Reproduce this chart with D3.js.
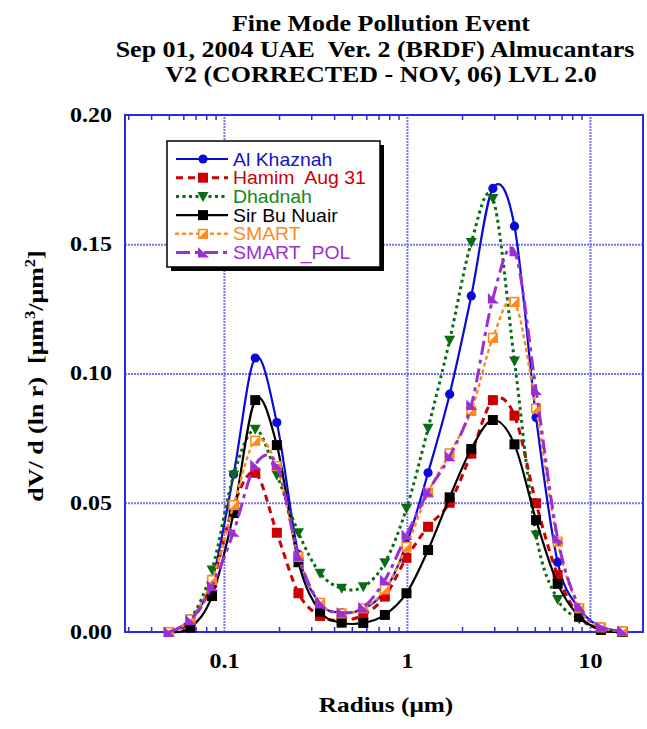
<!DOCTYPE html>
<html lang="en">
<head>
<meta charset="UTF-8">
<title>Fine Mode Pollution Event</title>
<script src="https://d3js.org/d3.v7.min.js"></script>
<style>
    body { margin: 0; background: #fff; }
    svg { display: block; }
    text { white-space: pre; }
</style>
</head>
<body>
<div id="chart"></div>
<script>
    // radius bins (um) of the inversion
    const radius = [0.05, 0.0656, 0.0861, 0.113, 0.1483, 0.1946, 0.2554, 0.3352, 0.4399, 0.5773, 0.7576,
                    0.9943, 1.3048, 1.7123, 2.2471, 2.949, 3.87, 5.0786, 6.6647, 8.7462, 11.4778, 15.0624];

    // dV/dlnr per site
    const alKhaznah  = [0.000, 0.005, 0.020, 0.061, 0.106, 0.081, 0.030, 0.011, 0.0075, 0.009, 0.016,
                        0.034, 0.0616, 0.092, 0.130, 0.1716, 0.157, 0.083, 0.027, 0.009, 0.002, 0.0005];
    const hamim      = [0.000, 0.004, 0.019, 0.049, 0.0616, 0.0384, 0.015, 0.0062, 0.0045, 0.0066, 0.0137,
                        0.0287, 0.0407, 0.050, 0.069, 0.0897, 0.0837, 0.0498, 0.022, 0.006, 0.001, 0.000];
    const dhadnah    = [0.000, 0.005, 0.024, 0.0607, 0.0784, 0.0607, 0.0384, 0.0227, 0.0169, 0.0175, 0.0268,
                        0.0478, 0.0788, 0.1129, 0.1507, 0.1677, 0.1048, 0.0375, 0.0126, 0.005, 0.001, 0.000];
    const sirBuNuair = [0.000, 0.0017, 0.0139, 0.046, 0.0897, 0.0723, 0.027, 0.0079, 0.0036, 0.0035, 0.0066,
                        0.015, 0.0317, 0.0521, 0.0708, 0.082, 0.0726, 0.0433, 0.0186, 0.0059, 0.0008, 0.000];
    const smart      = [0.000, 0.0049, 0.0201, 0.0491, 0.074, 0.0642, 0.0291, 0.0113, 0.0072, 0.0092, 0.0165,
                        0.033, 0.0539, 0.0691, 0.0855, 0.1138, 0.1277, 0.0865, 0.0349, 0.0092, 0.0018, 0.0003];
    const smartPol   = [0.000, 0.0045, 0.0178, 0.0388, 0.0646, 0.0646, 0.0294, 0.011, 0.0075, 0.0095, 0.0201,
                        0.0375, 0.0543, 0.068, 0.0878, 0.129, 0.1473, 0.0936, 0.0362, 0.0098, 0.002, 0.0005];

    const seriesNames = ["Al Khaznah", "Hamim  Aug 31", "Dhadnah", "Sir Bu Nuair", "SMART", "SMART_POL"];
    const xMajor = [0.1, 1, 10];
    const yTicks = [0, 0.05, 0.10, 0.15, 0.20];
    const titleLines = ["Fine Mode Pollution Event",
                        "Sep 01, 2004 UAE  Ver. 2 (BRDF) Almucantars",
                        "V2 (CORRECTED - NOV, 06) LVL 2.0"];

    // styles, same order as the names
    const styles = [
        { color: "#0a0ad8", text: "#1010d0", width: 2.2, dash: null,        marker: "circle" },
        { color: "#cc0000", text: "#cc0000", width: 3,   dash: "7,5",       marker: "square" },
        { color: "#0b6b12", text: "#118a11", width: 3,   dash: "3,3.5",     marker: "triDown" },
        { color: "#000000", text: "#000000", width: 2.2, dash: null,        marker: "square" },
        { color: "#ff8a1c", text: "#ff8a1c", width: 2.5, dash: "2,5",       marker: "halfSquare" },
        { color: "#9a2fd6", text: "#9a2fd6", width: 3,   dash: "14,5,4,5",  marker: "halfTri" }
    ];
    const allValues = [alKhaznah, hamim, dhadnah, sirBuNuair, smart, smartPol];

    const width = 647, height = 729;
    const plotLeft = 125, plotRight = 643, plotTop = 115, plotBottom = 632;
    const gridColor = "#7474ec", frameColor = "#2a2ae0";
    const serif = "'Liberation Serif', 'Times New Roman', serif";
    const sans = "'Liberation Sans', Arial, sans-serif";

    const svg = d3.select("#chart").append("svg")
        .attr("width", width)
        .attr("height", height);

    const x = d3.scaleLog().domain([0.0288, 19.5]).range([plotLeft, plotRight]);
    const y = d3.scaleLinear().domain([0, 0.2]).range([plotBottom, plotTop]);

    // minor ticks 2..9 per decade
    const xMinor = [];
    [0.01, 0.1, 1, 10].forEach(dec => {
        for (let i = 2; i <= 9; i++) {
            const v = dec * i;
            if (v > x.domain()[0] && v < x.domain()[1]) xMinor.push(v);
        }
    });

    // grid
    svg.append("g")
        .attr("transform", `translate(0,${plotBottom})`)
        .call(d3.axisBottom(x).tickValues(xMajor).tickSize(-(plotBottom - plotTop)).tickFormat(""))
        .call(g => g.select(".domain").remove())
        .selectAll("line").attr("stroke", gridColor).attr("stroke-width", 2).attr("stroke-dasharray", "2,1");

    svg.append("g")
        .attr("transform", `translate(${plotLeft},0)`)
        .call(d3.axisLeft(y).tickValues([0.05, 0.10, 0.15]).tickSize(-(plotRight - plotLeft)).tickFormat(""))
        .call(g => g.select(".domain").remove())
        .selectAll("line").attr("stroke", gridColor).attr("stroke-width", 2).attr("stroke-dasharray", "2,1");

    // minor ticks, pointing in
    svg.append("g")
        .attr("transform", `translate(0,${plotBottom})`)
        .call(d3.axisBottom(x).tickValues(xMinor).tickSize(-5).tickFormat(""))
        .call(g => g.select(".domain").remove())
        .selectAll("line").attr("stroke", frameColor).attr("stroke-width", 1.5);

    svg.append("g")
        .attr("transform", `translate(0,${plotTop})`)
        .call(d3.axisTop(x).tickValues(xMinor).tickSize(-5).tickFormat(""))
        .call(g => g.select(".domain").remove())
        .selectAll("line").attr("stroke", frameColor).attr("stroke-width", 1.5);

    // frame
    svg.append("rect")
        .attr("x", plotLeft).attr("y", plotTop)
        .attr("width", plotRight - plotLeft).attr("height", plotBottom - plotTop)
        .attr("fill", "none")
        .attr("stroke", frameColor)
        .attr("stroke-width", 2);

    // tick labels
    svg.append("g")
        .attr("transform", `translate(0,${plotBottom})`)
        .call(d3.axisBottom(x).tickValues(xMajor).tickSize(0).tickPadding(22).tickFormat(d3.format("~g")))
        .call(g => g.select(".domain").remove())
        .selectAll("text")
        .attr("font-family", serif).attr("font-weight", "bold").attr("font-size", 20)
        .attr("fill", "#000")
        .attr("transform", "scale(1.2,1)");

    svg.append("g")
        .attr("transform", `translate(${plotLeft - 13},0)`)
        .call(d3.axisLeft(y).tickValues(yTicks).tickSize(0).tickPadding(0).tickFormat(d3.format(".2f")))
        .call(g => g.select(".domain").remove())
        .selectAll("text")
        .attr("font-family", serif).attr("font-weight", "bold").attr("font-size", 20)
        .attr("fill", "#000")
        .attr("transform", "scale(1.2,1)");

    // titles
    const title = svg.append("g").attr("font-family", serif).attr("font-weight", "bold").attr("font-size", 23);
    titleLines.forEach((t, i) => {
        title.append("text")
            .attr("transform", `translate(${i === 1 ? 375 : 381},${31 + i * 25.5}) scale(1.13,1)`)
            .attr("text-anchor", "middle")
            .text(t);
    });

    svg.append("text")
        .attr("transform", `translate(386,712) scale(1.15,1)`)
        .attr("text-anchor", "middle")
        .attr("font-family", serif).attr("font-weight", "bold").attr("font-size", 22)
        .text("Radius (\u03bcm)");

    const yl = svg.append("text")
        .attr("transform", `translate(43,376) rotate(-90) scale(1.18,1)`)
        .attr("text-anchor", "middle")
        .attr("font-family", serif).attr("font-weight", "bold").attr("font-size", 22);
    yl.append("tspan").text("dV/ d (ln r)  [\u03bcm");
    yl.append("tspan").attr("dy", -8).attr("font-size", 14).text("3");
    yl.append("tspan").attr("dy", 8).text("/\u03bcm");
    yl.append("tspan").attr("dy", -8).attr("font-size", 14).text("2");
    yl.append("tspan").attr("dy", 8).text("]");

    // markers
    function drawMarker(g, type, color) {
        if (type === "circle") {
            g.append("circle").attr("r", 4.6).attr("fill", color);
        } else if (type === "square") {
            g.append("rect").attr("x", -5).attr("y", -5).attr("width", 10).attr("height", 10).attr("fill", color);
        } else if (type === "triDown") {
            g.append("path").attr("d", "M-5.5,-4.5L5.5,-4.5L0,5.5Z").attr("fill", color);
        } else if (type === "halfSquare") {
            g.append("rect").attr("x", -4.3).attr("y", -4.3).attr("width", 8.6).attr("height", 8.6)
                .attr("fill", "#fff").attr("stroke", color).attr("stroke-width", 1.6);
            g.append("path").attr("d", "M4.3,-4.3L4.3,4.3L-4.3,4.3Z").attr("fill", color);
        } else if (type === "halfTri") {
            g.append("path").attr("d", "M-5,-5.5L-5,5L6,5Z").attr("fill", color);
        }
    }

    const line = d3.line()
        .x(d => x(d[0]))
        .y(d => y(d[1]))
        .curve(d3.curveCardinal.tension(0));

    allValues.forEach((vals, i) => {
        const st = styles[i];
        const pts = radius.map((r, j) => [r, vals[j]]);
        const g = svg.append("g");
        g.append("path")
            .attr("d", line(pts))
            .attr("fill", "none")
            .attr("stroke", st.color)
            .attr("stroke-width", st.width)
            .attr("stroke-dasharray", st.dash)
            .attr("stroke-linecap", st.marker === "halfSquare" ? "round" : "butt");
        g.selectAll(".pt")
            .data(pts)
            .enter()
            .append("g")
            .attr("transform", d => `translate(${x(d[0])},${y(d[1])})`)
            .each(function () { drawMarker(d3.select(this), st.marker, st.color); });
    });

    // legend
    const lg = svg.append("g");
    lg.append("rect")
        .attr("x", 171).attr("y", 145).attr("width", 213).attr("height", 126)
        .attr("fill", "#000");
    lg.append("rect")
        .attr("x", 167).attr("y", 141).attr("width", 213).attr("height", 126)
        .attr("fill", "#fff").attr("stroke", "#000").attr("stroke-width", 1.5);

    seriesNames.forEach((name, i) => {
        const st = styles[i];
        const ry = 159 + i * 18.7;
        lg.append("line")
            .attr("x1", 176).attr("x2", 228).attr("y1", ry).attr("y2", ry)
            .attr("stroke", st.color)
            .attr("stroke-width", st.width)
            .attr("stroke-dasharray", st.dash)
            .attr("stroke-linecap", st.marker === "halfSquare" ? "round" : "butt");
        drawMarker(lg.append("g").attr("transform", `translate(203,${ry})`), st.marker, st.color);
        lg.append("text")
            .attr("transform", `translate(233,${ry + 6.5}) scale(1.08,1)`)
            .attr("font-family", sans).attr("font-size", 18)
            .attr("fill", st.text)
            .text(name);
    });
</script>
</body>
</html>
